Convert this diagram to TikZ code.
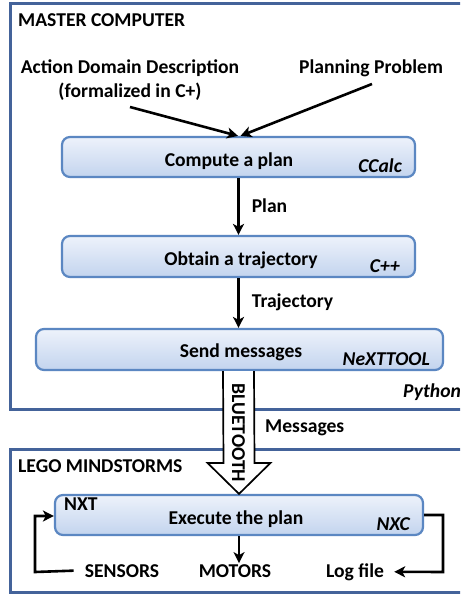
\documentclass[tikz,border=0pt]{standalone}
\usepackage{fontspec}
\setmainfont{Carlito}
\usetikzlibrary{calc,arrows.meta}

\definecolor{frameblue}{HTML}{44639A}
\definecolor{boxedge}{HTML}{5B87C2}
\definecolor{boxtop}{HTML}{EDF2FB}
\definecolor{boxbot}{HTML}{C3D4EE}

\tikzset{
  frame/.style={draw=frameblue, line width=3pt, fill=white},
  procbox/.style={draw=boxedge, line width=2.2pt, rounded corners=8pt,
    top color=boxtop, bottom color=boxbot, inner sep=0pt},
  txt/.style={font=\fontsize{19.6}{22}\selectfont\bfseries, inner sep=0pt},
  itxt/.style={font=\fontsize{19.6}{22}\selectfont\bfseries\itshape, inner sep=0pt},
  flow/.style={draw=black, line width=2.6pt,
    -{Stealth[length=11pt,width=11pt,inset=3pt]}},
  btarrow/.style={draw=black, line width=1.7pt, fill=white, line join=miter}
}

\begin{document}
\begin{tikzpicture}[x=1pt,y=-1pt]
  \useasboundingbox (0,0) rectangle (460,596);
  \clip (0,0) rectangle (460,596);

  % system frames
  \draw[frame] (10,4) rectangle (480,409);
  \draw[frame] (10,449) rectangle (480,592);
  \node[txt, anchor=base west] (master) at (18,27) {MASTER COMPUTER};
  \node[txt, anchor=base west] (lego) at (18,472) {LEGO MINDSTORMS};
  \node[itxt, anchor=base west] (python) at (403,397) {Python};

  % inputs
  \node[txt, anchor=base] (adl1) at (130,74) {Action Domain Description};
  \node[txt, anchor=base] (adl2) at (130,98) {(formalized in C+)};
  \node[txt, anchor=base] (prob) at (371,74) {Planning Problem};

  % processing steps
  \node[procbox, minimum width=353pt, minimum height=40pt] (plan) at (238.5,157) {};
  \node[txt, anchor=base] (plant) at (229,167) {Compute a plan};
  \node[itxt, anchor=base east] (ccalc) at (402,172) {CCalc};

  \node[procbox, minimum width=353pt, minimum height=41pt] (traj) at (238.5,256.5) {};
  \node[txt, anchor=base] (trajt) at (241,265) {Obtain a trajectory};
  \node[itxt, anchor=base east] (cpp) at (400,272) {C++};

  \node[procbox, minimum width=407pt, minimum height=41pt] (send) at (239.5,349.5) {};
  \node[txt, anchor=base] (sendt) at (241,357) {Send messages};
  \node[itxt, anchor=base east] (nxttool) at (430,365) {NeXTTOOL};

  \node[procbox, minimum width=368pt, minimum height=40pt] (exec) at (239,515) {};
  \node[txt, anchor=base] (exect) at (236,524) {Execute the plan};
  \node[txt, anchor=base west] (nxt) at (64,510) {NXT};
  \node[itxt, anchor=base east] (nxc) at (410,530) {NXC};

  % robot I/O
  \node[txt, anchor=base] (sensors) at (122,577) {SENSORS};
  \node[txt, anchor=base] (motors) at (235,577) {MOTORS};
  \node[txt, anchor=base west] (log) at (326,577) {Log file};

  % connectors
  \coordinate (adlend) at (130,107);
  \coordinate (probend) at (372,84);
  \draw[flow] (adlend) -- ($(plan.north)+(-0.5,0)$);
  \draw[flow] (probend) -- ($(plan.north)+(2,0)$);

  \draw[flow] (plan.south) -- (traj.north)
    node[txt, midway, anchor=base west, xshift=12pt, yshift=-6pt] (planlbl) {Plan};
  \draw[flow] (traj.south) -- ($(send.north)+(-1,0)$)
    node[txt, midway, anchor=base west, xshift=12pt, yshift=-4pt] (trajlbl) {Trajectory};

  % bluetooth link
  \coordinate (bt) at ($(send.south)+(-1,0)$);
  \coordinate (bh) at (exec.north);
  \fill[white] ($(bt)+(-15.5,0)$) -- ($(bh)+(-15.5,-31)$) -- ($(bh)+(-31.5,-31)$)
    -- (bh) -- ($(bh)+(31.5,-31)$) -- ($(bh)+(15.5,-31)$) -- ($(bt)+(15.5,0)$) -- cycle;
  \draw[btarrow] ($(bt)+(-15.5,0)$) -- ($(bh)+(-15.5,-31)$) -- ($(bh)+(-31.5,-31)$)
    -- (bh) -- ($(bh)+(31.5,-31)$) -- ($(bh)+(15.5,-31)$) -- ($(bt)+(15.5,0)$);
  \node[txt, rotate=-90] (btlbl) at (238.5,433) {BLUETOOTH};
  \node[txt, anchor=base west] (msgs) at (265,432) {Messages};

  % NXT loops
  \coordinate (senscorner) at (35,572);
  \draw[flow] ($(sensors.west)+(-11,0)$) -- (senscorner) |- ($(exec.west)+(0,1)$);
  \draw[flow] (exec.south) -- ($(exec.south)+(0,27)$);
  \coordinate (logcorner) at (443,572);
  \draw[flow] (exec.east) -| (logcorner) -- ($(log.east)+(10,0)$);
\end{tikzpicture}
\end{document}
